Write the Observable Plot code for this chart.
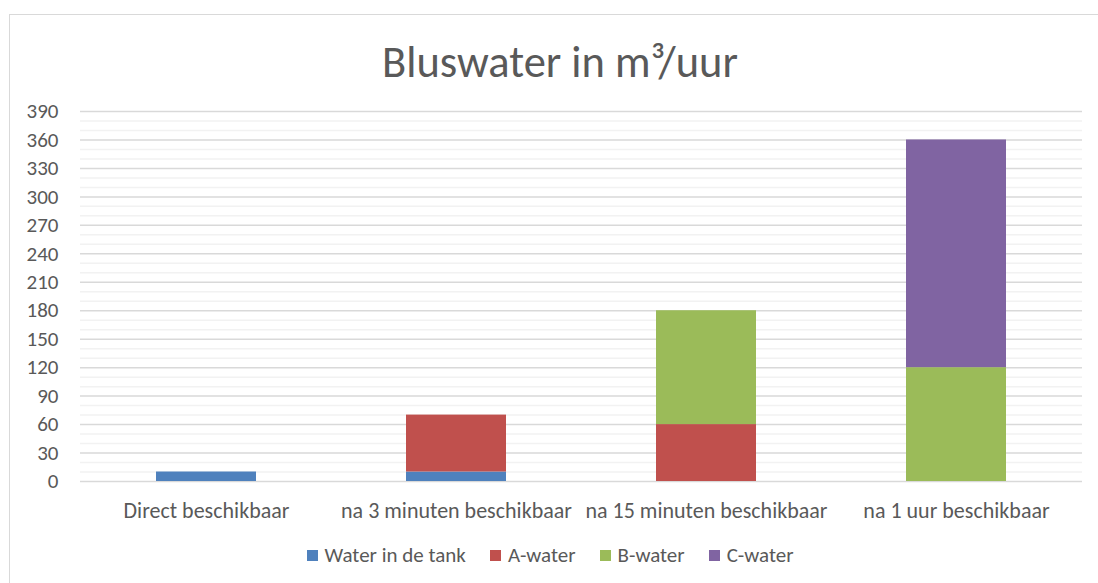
<!DOCTYPE html>
<html>
<head>
<meta charset="utf-8">
<script src="https://cdn.jsdelivr.net/npm/d3@7"></script>
<script src="https://cdn.jsdelivr.net/npm/@observablehq/plot@0.6"></script>
<style>
  html, body { margin: 0; padding: 0; background: #fff; }
  #wrap { position: relative; width: 1098px; height: 583px; overflow: hidden; font-family: Carlito, Calibri, Lato, sans-serif; color: #595959; }
  #frame { position: absolute; left: 9px; top: 14px; width: 1200px; height: 700px; border: 1.5px solid #d9d9d9; box-sizing: border-box; }
  #title { position: absolute; left: 160px; width: 800px; top: 36px; text-align: center; font-size: 44.5px; line-height: 52px; color: #595959; }
  #chart { position: absolute; left: 0; top: 90px; }
  #legend { position: absolute; left: 0; width: 1100px; top: 543px; display: flex; justify-content: center; gap: 24px; font-size: 21px; line-height: 24px; }
  #legend .item { display: flex; align-items: center; gap: 7px; }
  #legend .sw { width: 11px; height: 11px; }
</style>
</head>
<body>
<div id="wrap">
  <div id="frame"></div>
  <div id="title">Bluswater in m³/uur</div>
  <div id="chart"></div>
  <div id="legend"></div>
</div>
<script>
const categories = ["Direct beschikbaar", "na 3 minuten beschikbaar", "na 15 minuten beschikbaar", "na 1 uur beschikbaar"];
const seriesNames = ["Water in de tank", "A-water", "B-water", "C-water"];
const seriesColors = ["#4f81bd", "#c0504d", "#9bbb59", "#8064a2"];
const waterInTank = [10, 10, 0, 0];
const aWater = [0, 60, 60, 0];
const bWater = [0, 0, 120, 120];
const cWater = [0, 0, 0, 240];
const majorTicks = [0, 30, 60, 90, 120, 150, 180, 210, 240, 270, 300, 330, 360, 390];
const minorTicks = [10, 20, 40, 50, 70, 80, 100, 110, 130, 140, 160, 170, 190, 200, 220, 230, 250, 260, 280, 290, 310, 320, 340, 350, 370, 380];

const seriesValues = [waterInTank, aWater, bWater, cWater];
const data = [];
seriesNames.forEach((s, si) => {
  categories.forEach((c, ci) => {
    data.push({category: c, series: s, value: seriesValues[si][ci]});
  });
});

const plot = Plot.plot({
  width: 1098,
  height: 450,
  marginLeft: 80,
  marginRight: 16,
  marginTop: 21,
  marginBottom: 59,
  style: {fontFamily: "Carlito, Calibri, Lato, sans-serif", fontSize: "21px", color: "#595959", background: "transparent"},
  x: {domain: categories, paddingInner: 0.6, paddingOuter: 0.3, label: null},
  y: {domain: [0, 390], label: null},
  color: {domain: seriesNames, range: seriesColors},
  marks: [
    Plot.ruleY(minorTicks, {stroke: "#f2f2f2", strokeWidth: 1.5}),
    Plot.ruleY(majorTicks, {stroke: "#d9d9d9", strokeWidth: 1.5}),
    Plot.barY(data, {x: "category", y: "value", fill: "series"}),
    Plot.axisY({ticks: majorTicks, tickSize: 0, tickPadding: 22, fill: "#595959", fontSize: 21}),
    Plot.axisX({tickSize: 0, tickPadding: 21, fill: "#595959", fontSize: 22})
  ]
});
document.getElementById("chart").appendChild(plot);

const legend = document.getElementById("legend");
seriesNames.forEach((s, i) => {
  const item = document.createElement("div");
  item.className = "item";
  const sw = document.createElement("div");
  sw.className = "sw";
  sw.style.background = seriesColors[i];
  const t = document.createElement("span");
  t.textContent = s;
  item.appendChild(sw);
  item.appendChild(t);
  legend.appendChild(item);
});
</script>
</body>
</html>
